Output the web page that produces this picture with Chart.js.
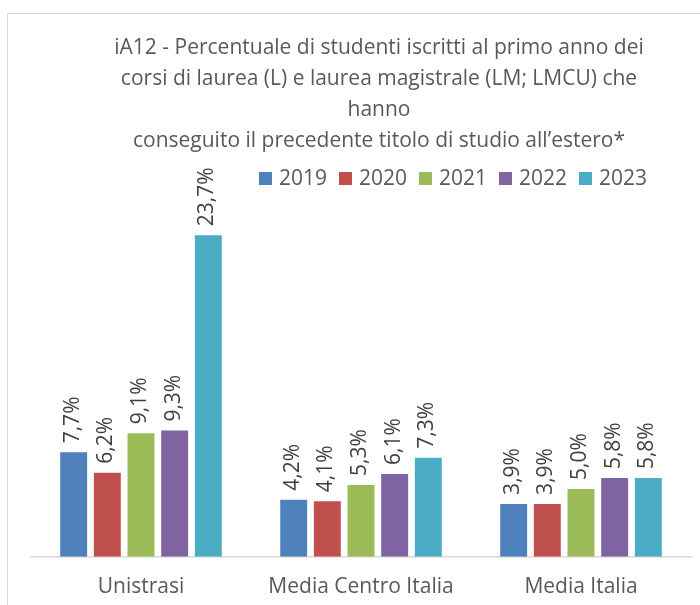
<!DOCTYPE html>
<html>
<head>
<meta charset="utf-8">
<script src="https://cdn.jsdelivr.net/npm/chart.js@4"></script>
<style>
  html, body { margin: 0; padding: 0; background: #fff; overflow: hidden; }
  #wrap { position: relative; width: 700px; height: 605px; }
  #frame { position: absolute; left: 7px; top: 13px; width: 720px; height: 620px; border: 1px solid #d9d9d9; box-sizing: border-box; }
  canvas { position: absolute; left: 0; top: 0; }
</style>
</head>
<body>
<div id="wrap">
  <div id="frame"></div>
  <canvas id="chart" width="700" height="605"></canvas>
</div>
<script>
const FONT = "'Open Sans', 'Noto Sans', sans-serif";

const titleLines = [
  "iA12 - Percentuale di studenti iscritti al primo anno dei",
  "corsi di laurea (L) e laurea magistrale (LM; LMCU) che",
  "hanno",
  "conseguito il precedente titolo di studio all\u2019estero*",
];

const categories = ["Unistrasi", "Media Centro Italia", "Media Italia"];
const years = ["2019", "2020", "2021", "2022", "2023"];
const colors = ["#4f81bd", "#c0504d", "#9bbb59", "#8064a2", "#4bacc6"];

const v2019 = [7.7, 4.2, 3.9];
const v2020 = [6.2, 4.1, 3.9];
const v2021 = [9.1, 5.3, 5.0];
const v2022 = [9.3, 6.1, 5.8];
const v2023 = [23.7, 7.3, 5.8];
const seriesValues = [v2019, v2020, v2021, v2022, v2023];

// title + legend, placed by hand like the Excel original
const headerPlugin = {
  id: "header",
  afterDraw(chart) {
    const ctx = chart.ctx;
    ctx.save();
    ctx.fillStyle = "#595959";
    ctx.font = "21px " + FONT;
    ctx.textAlign = "center";
    ctx.textBaseline = "middle";
    titleLines.forEach((line, i) => ctx.fillText(line, 379, 48 + i * 31));

    ctx.textAlign = "left";
    chart.data.datasets.forEach((ds, i) => {
      const x = 259 + i * 80;
      ctx.fillStyle = ds.backgroundColor;
      ctx.fillRect(x, 172, 13, 13);
      ctx.fillStyle = "#595959";
      ctx.fillText(ds.label, x + 20, 179);
    });
    ctx.restore();
  },
};

// rotated value labels above each bar
const valueLabels = {
  id: "valueLabels",
  afterDatasetsDraw(chart) {
    const ctx = chart.ctx;
    ctx.save();
    ctx.fillStyle = "#404040";
    ctx.font = "21px " + FONT;
    ctx.textAlign = "left";
    ctx.textBaseline = "middle";
    chart.data.datasets.forEach((ds, di) => {
      chart.getDatasetMeta(di).data.forEach((bar, i) => {
        const txt = ds.data[i].toFixed(1).replace(".", ",") + "%";
        ctx.save();
        ctx.translate(bar.x - 1, bar.y - 9);
        ctx.rotate(-Math.PI / 2);
        ctx.fillText(txt, 0, 0);
        ctx.restore();
      });
    });
    ctx.restore();
  },
};

new Chart(document.getElementById("chart"), {
  type: "bar",
  data: {
    labels: categories,
    datasets: years.map((y, i) => ({
      label: y,
      data: seriesValues[i],
      backgroundColor: colors[i],
      categoryPercentage: 0.765,
      barPercentage: 0.8,
    })),
  },
  options: {
    responsive: false,
    animation: false,
    layout: { padding: { left: 31, right: 9, top: 204, bottom: -5 } },
    plugins: {
      legend: { display: false },
      title: { display: false },
      tooltip: { enabled: false },
    },
    scales: {
      x: {
        grid: { display: false },
        border: { color: "#d9d9d9", width: 1.5 },
        ticks: { color: "#595959", font: { family: FONT, size: 21 }, padding: 10 },
      },
      y: { display: false, min: 0, max: 26 },
    },
  },
  plugins: [headerPlugin, valueLabels],
});
</script>
</body>
</html>
